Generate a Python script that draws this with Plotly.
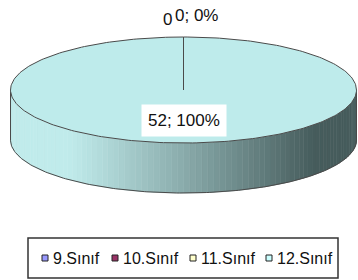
import numpy as np
import plotly.graph_objects as go

# ---- data ----
categories = ["9.Sınıf", "10.Sınıf", "11.Sınıf", "12.Sınıf"]
values = [0, 0, 0, 52]
colors = ["#9999FF", "#993366", "#FFFFCC", "#BEEBEB"]
legend_colors = ["#9999FF", "#993366", "#FFFFCC", "#CCFFFF"]

# ---- geometry / style (pixel space) ----
W, H = 358, 280
cx, cy, a, b, depth = 183.5, 90.0, 173.0, 53.0, 50.0
FONT = "Liberation Sans, Arial, sans-serif"
EDGE = "#4a4a4a"

total = sum(values)
fracs = [v / total for v in values]
cum = np.concatenate([[0], np.cumsum(fracs)])


def ell(theta, dy=0.0):
    return cx + a * np.sin(theta), cy - b * np.cos(theta) + dy


fig = go.Figure()

# side band (front half), gradient strips
light = np.array([192, 235, 235])
dark = np.array([70, 92, 92])


def side_color(x):
    t = np.clip((x - 70) / (315 - 70), 0, 1) ** 1.05
    c = light + (dark - light) * t
    return "rgb(%d,%d,%d)" % tuple(c.astype(int))


n = 90
th = np.linspace(np.pi / 2, 3 * np.pi / 2, n + 1)
for i in range(n):
    t0, t1 = th[i], th[i + 1]
    x0, y0 = ell(t0)
    x1, y1 = ell(t1)
    xs = [x0, x1, x1, x0, x0]
    ys = [y0, y1, y1 + depth, y0 + depth, y0]
    col = side_color((x0 + x1) / 2)
    fig.add_trace(go.Scatter(x=xs, y=ys, mode="lines", fill="toself",
                             fillcolor=col, line=dict(width=0.6, color=col),
                             hoverinfo="skip", showlegend=False))

# side outline: bottom arc + vertical edges
tb = np.linspace(np.pi / 2, 3 * np.pi / 2, 200)
bx, by = ell(tb, depth)
fig.add_trace(go.Scatter(x=bx, y=by, mode="lines", line=dict(color=EDGE, width=1),
                         hoverinfo="skip", showlegend=False))
for t in (np.pi / 2, 3 * np.pi / 2):
    ex, ey = ell(t)
    fig.add_trace(go.Scatter(x=[ex, ex], y=[ey, ey + depth], mode="lines",
                             line=dict(color=EDGE, width=1), hoverinfo="skip", showlegend=False))

# top slices
for i, (cat, f) in enumerate(zip(categories, fracs)):
    t0, t1 = 2 * np.pi * cum[i], 2 * np.pi * cum[i + 1]
    if t1 - t0 <= 0:
        continue
    tt = np.linspace(t0, t1, 300)
    ex, ey = ell(tt)
    fig.add_trace(go.Scatter(x=np.concatenate([[cx], ex, [cx]]),
                             y=np.concatenate([[cy], ey, [cy]]),
                             mode="lines", fill="toself", fillcolor=colors[i],
                             line=dict(color=EDGE, width=1),
                             hoverinfo="skip", showlegend=False))

# slice boundary lines
for c in cum[:-1]:
    ex, ey = ell(2 * np.pi * c)
    fig.add_trace(go.Scatter(x=[cx, ex], y=[cy, ey], mode="lines",
                             line=dict(color=EDGE, width=1), hoverinfo="skip", showlegend=False))

# data labels (zero-value labels overlap at the top; the first is mostly hidden)
labels = [f"{v}; {round(100 * v / total)}%" for v in values]
zero_pos = [(161, 19), (173, 15)]
zero_idx = [i for i, v in enumerate(values) if v == 0]
for k, i in enumerate(zero_idx[:len(zero_pos)]):
    x, y = zero_pos[k]
    text = labels[i] if k == len(zero_pos) - 1 else f"{values[i]}"
    fig.add_annotation(x=x, y=y, text=text, showarrow=False, xanchor="left",
                       yanchor="middle", font=dict(family=FONT, size=17, color="#111"))
for i, v in enumerate(values):
    if v > 0:
        fig.add_annotation(x=cx, y=120, text=labels[i], showarrow=False,
                           font=dict(family=FONT, size=17, color="#111"),
                           bgcolor="white", borderpad=6)

# legend (manual)
leg_x = [45, 115, 193, 269]
leg_y = 258
fig.add_shape(type="rect", x0=28, y0=238, x1=338, y1=278,
              line=dict(color="#333", width=1.5), fillcolor="white", layer="below")
fig.add_trace(go.Scatter(x=leg_x, y=[leg_y] * 4, mode="markers",
                         marker=dict(symbol="square", size=6, color=legend_colors,
                                     line=dict(color="#222", width=1)),
                         hoverinfo="skip", showlegend=False))
for x, cat in zip(leg_x, categories):
    fig.add_annotation(x=x + 6, y=leg_y, text=cat, showarrow=False, xanchor="left",
                       yanchor="middle", font=dict(family=FONT, size=16, color="#111"))

fig.update_layout(
    width=W, height=H, margin=dict(l=0, r=0, t=0, b=0),
    paper_bgcolor="white", plot_bgcolor="white",
    xaxis=dict(range=[0, W], visible=False, fixedrange=True),
    yaxis=dict(range=[H, 0], visible=False, fixedrange=True),
    showlegend=False,
)
fig.write_html("out.html", config={"displayModeBar": False},
               post_script="document.body.style.margin='0';document.body.style.overflow='hidden';")
